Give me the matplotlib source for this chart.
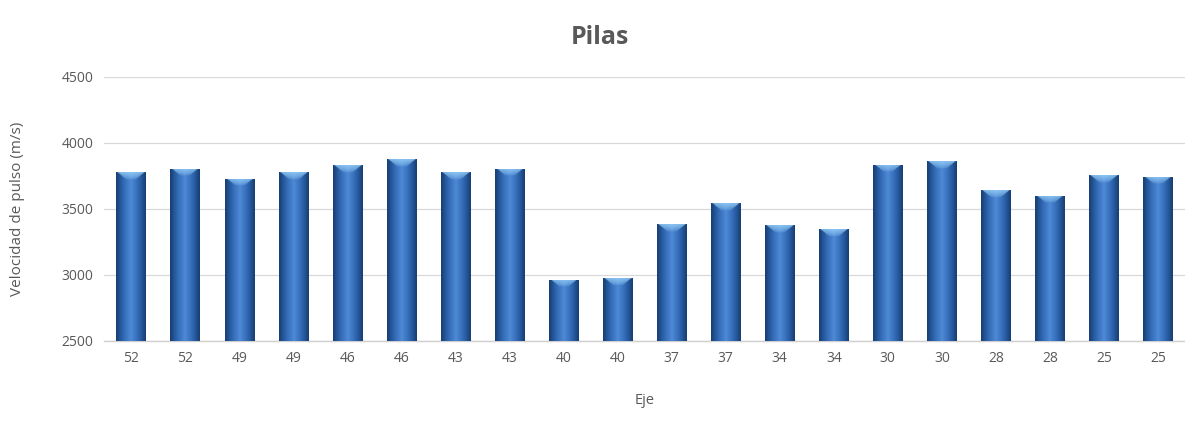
import matplotlib
matplotlib.use("Agg")
import matplotlib.pyplot as plt
import numpy as np
from matplotlib.colors import LinearSegmentedColormap

# datos
ejes = ["52", "52", "49", "49", "46", "46", "43", "43", "40", "40",
        "37", "37", "34", "34", "30", "30", "28", "28", "25", "25"]
velocidad = [3780, 3805, 3730, 3780, 3830, 3875, 3780, 3805, 2965, 2975,
             3385, 3545, 3375, 3345, 3835, 3860, 3640, 3600, 3755, 3745]
yticks = [2500, 3000, 3500, 4000, 4500]

gris = "#595959"
plt.rcParams["font.family"] = ["Open Sans", "DejaVu Sans"]

fig = plt.figure(figsize=(11.85, 4.23), dpi=100)
ax = fig.add_axes([0.088, 0.194, 0.912, 0.624])

x = np.arange(len(velocidad))
bars = ax.bar(x, velocidad, width=0.55, bottom=0, color="#3b73bd", zorder=2)
ax.set_xlim(-0.5, len(velocidad) - 0.5)
ax.set_ylim(2500, 4500)

# degradado tipo "cilindro" para cada barra
cmap = LinearSegmentedColormap.from_list(
    "bar", ["#173f75", "#3169b4", "#4f8ad6", "#3169b4", "#173f75"])
nx, ny = 60, 300
grad = cmap(np.linspace(0, 1, nx))[:, :3]
xs = np.abs(np.linspace(-1, 1, nx))
for b in bars:
    x0, w, h = b.get_x(), b.get_width(), b.get_height()
    img = np.tile(grad[None, :, :], (ny, 1, 1)).copy()
    ys = np.linspace(h, 2500, ny)
    cap = 55.0
    for i, yv in enumerate(ys):
        d = h - yv
        if d < cap:
            # tapa superior clara en forma de V
            lim = 0.9 - 0.6 * (d / cap)
            m = xs < lim
            t = 0.8 * (1 - d / cap) ** 0.6
            img[i, m] = img[i, m] * (1 - t) + np.array([0.60, 0.82, 0.98]) * t
    im = ax.imshow(img, extent=[x0, x0 + w, 2500, h], aspect="auto",
                   origin="upper", zorder=3, interpolation="bilinear")
    im.set_clip_path(b)

ax.set_xticks(x)
ax.set_xticklabels(ejes)
ax.set_yticks(yticks)
ax.tick_params(length=0, colors=gris, labelsize=10)
ax.tick_params(axis="x", pad=7)
ax.tick_params(axis="y", pad=8)
ax.grid(axis="y", color="#d9d9d9", linewidth=0.9, zorder=0)
ax.set_axisbelow(True)
for s in ["top", "right", "left"]:
    ax.spines[s].set_visible(False)
ax.spines["bottom"].set_color("#d0d0d0")
ax.spines["bottom"].set_linewidth(1.0)

ax.set_xlabel("Eje", color=gris, fontsize=10.5, labelpad=20)
ax.set_ylabel("Velocidad de pulso (m/s)", color=gris, fontsize=11, labelpad=26)
fig.text(0.506, 0.912, "Pilas", ha="center", va="center", fontsize=18,
         fontweight="bold", color=gris)

fig.savefig("out.png", dpi=100, facecolor="white")
